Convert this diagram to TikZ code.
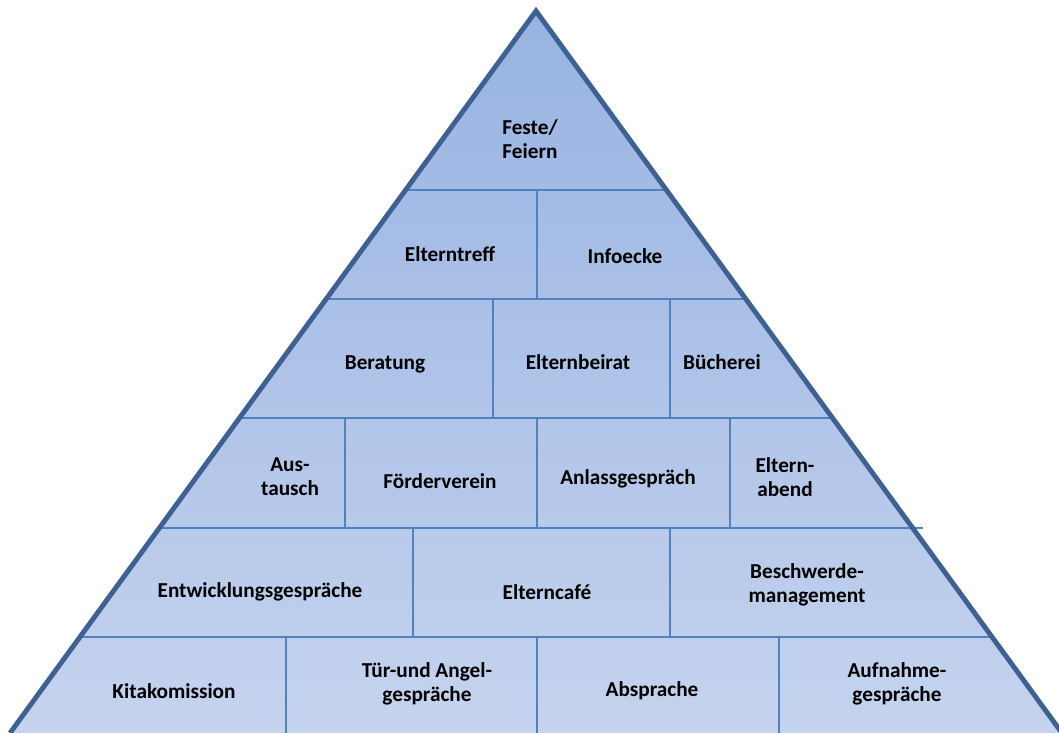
\documentclass[tikz,border=0pt]{standalone}
\usepackage{fontspec}
\setmainfont{Carlito}
\definecolor{rim}{HTML}{3D6192}
\definecolor{seam}{HTML}{5082C0}
\definecolor{filltop}{HTML}{98B3E2}
\definecolor{fillbot}{HTML}{C5D3EE}
\begin{document}
\begin{tikzpicture}[x=0.02cm,y=-0.02cm,
  brick/.style={font=\bfseries\fontsize{12.1}{13.8}\selectfont,align=center,text=black,inner sep=0pt},
  seamline/.style={draw=seam,line width=1.1pt},
  rimline/.style={draw=rim,line width=2.8pt,line join=miter}]
\useasboundingbox (0,0) rectangle (1059,733);
\coordinate (apex) at (536,11);
\coordinate (bl) at (10,733);
\coordinate (br) at (1062,733);
% body of the pyramid
\shade[top color=filltop,bottom color=fillbot] (apex) -- (bl) -- (br) -- cycle;
\begin{scope}
\clip (apex) -- (bl) -- (br) -- cycle;
\foreach \y in {190,299,418,528,637}
  \draw[seamline] (0,\y) -- (1059,\y);
\foreach \x/\ya/\yb in {537/190/299, 493/299/418, 670/299/418,
    345/418/528, 537/418/528, 730/418/528,
    413/528/637, 670/528/637,
    286/637/733, 537/637/733, 779/637/733}
  \draw[seamline] (\x,\ya) -- (\x,\yb);
\end{scope}
\draw[seamline] (913,528) -- (923,528);
\draw[rimline] (bl) -- (apex) -- (br);
% labels
\node[brick] (feste) at (530,139) {Feste/\\Feiern};
\node[brick] (treff) at (450,254) {Elterntreff};
\node[brick] (info) at (625,256) {Infoecke};
\node[brick] (berat) at (385,364) {Beratung};
\node[brick] (beirat) at (578,362) {Elternbeirat};
\node[brick] (buech) at (722,362) {Bücherei};
\node[brick] (aus) at (290,477) {Aus-\\tausch};
\node[brick] (foerd) at (440,481) {Förderverein};
\node[brick] (anlass) at (628,479) {Anlassgespräch};
\node[brick] (abend) at (785,477) {Eltern-\\abend};
\node[brick] (entw) at (260,592) {Entwicklungsgespräche};
\node[brick] (cafe) at (547,592) {Elterncafé};
\node[brick] (beschw) at (807,585) {Beschwerde-\\management};
\node[brick] (kita) at (174,691) {Kitakomission};
\node[brick] (tuer) at (427,684) {Tür-und Angel-\\gespräche};
\node[brick] (absp) at (652,691) {Absprache};
\node[brick] (aufn) at (897,684) {Aufnahme-\\gespräche};
\end{tikzpicture}
\end{document}
